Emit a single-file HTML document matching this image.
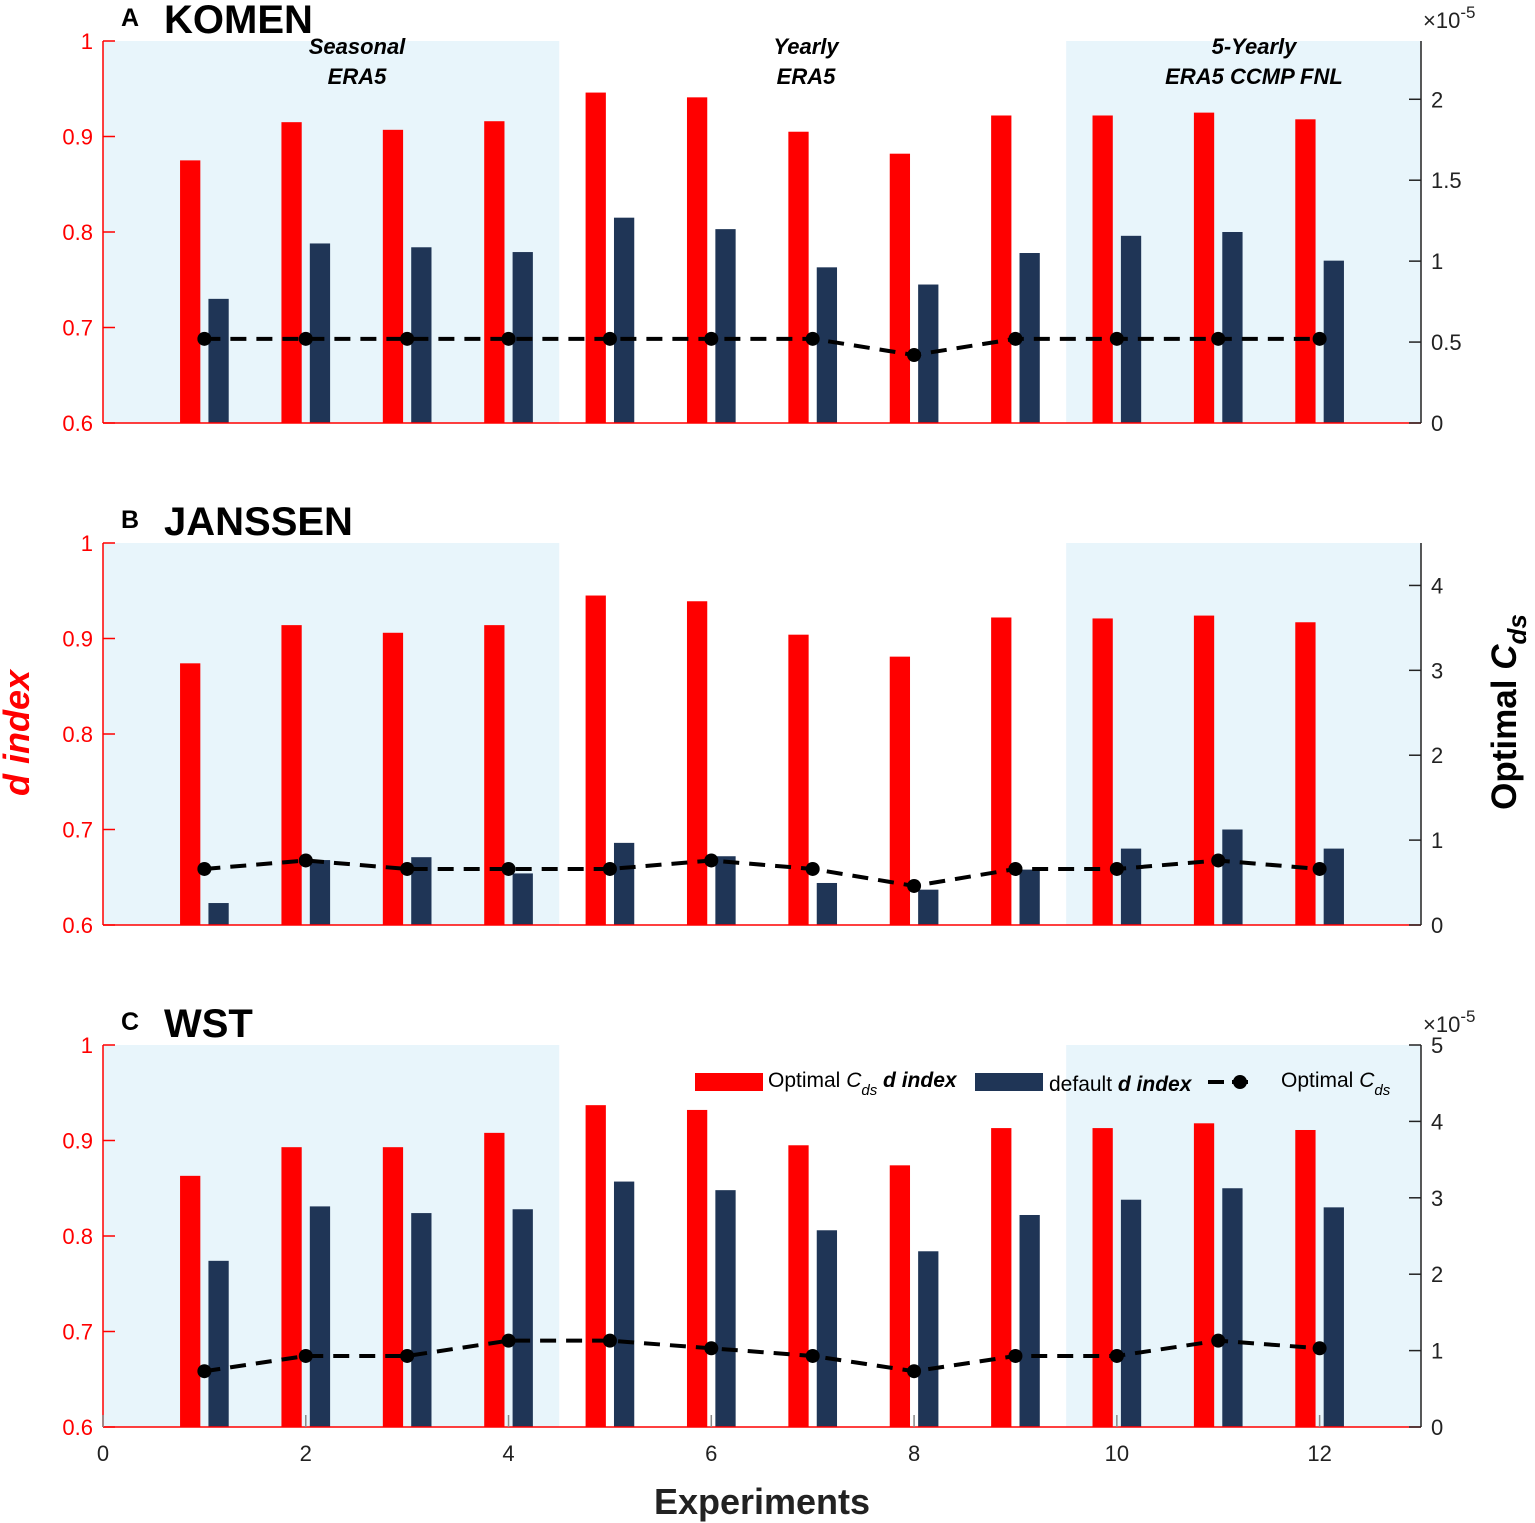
<!DOCTYPE html>
<html><head><meta charset="utf-8"><style>
html,body{margin:0;padding:0;background:#fff;}
svg{display:block;font-family:"Liberation Sans",Arial,sans-serif;}
</style></head><body>
<svg id="chart" width="1535" height="1523" viewBox="0 0 1535 1523"></svg>
<script>
const experiments=[1,2,3,4,5,6,7,8,9,10,11,12];
const komenOpt=[0.875,0.915,0.907,0.916,0.946,0.941,0.905,0.882,0.922,0.922,0.925,0.918];
const komenDef=[0.730,0.788,0.784,0.779,0.815,0.803,0.763,0.745,0.778,0.796,0.800,0.770];
const komenCds=[0.52,0.52,0.52,0.52,0.52,0.52,0.52,0.42,0.52,0.52,0.52,0.52];
const janOpt=[0.874,0.914,0.906,0.914,0.945,0.939,0.904,0.881,0.922,0.921,0.924,0.917];
const janDef=[0.623,0.668,0.671,0.654,0.686,0.672,0.644,0.637,0.658,0.680,0.700,0.680];
const janCds=[0.66,0.76,0.66,0.66,0.66,0.76,0.66,0.46,0.66,0.66,0.76,0.66];
const wstOpt=[0.863,0.893,0.893,0.908,0.937,0.932,0.895,0.874,0.913,0.913,0.918,0.911];
const wstDef=[0.774,0.831,0.824,0.828,0.857,0.848,0.806,0.784,0.822,0.838,0.850,0.830];
const wstCds=[0.73,0.93,0.93,1.13,1.13,1.03,0.93,0.73,0.93,0.93,1.13,1.03];
const leftTicks=[0.6,0.7,0.8,0.9,1];
const xTicks=[0,2,4,6,8,10,12];

const NS="http://www.w3.org/2000/svg";
const svg=document.getElementById('chart');
function el(tag,attrs,parent,text){const e=document.createElementNS(NS,tag);for(const k in attrs)e.setAttribute(k,attrs[k]);if(text!==undefined)e.textContent=text;(parent||svg).appendChild(e);return e;}
const X0=103,X1=1421;
const xs=v=>X0+(v/13)*(X1-X0);

const panels=[
 {key:'a',letter:'A',name:'KOMEN',top:41,bot:423,rmax:2.36,rticks:[0,0.5,1,1.5,2],opt:komenOpt,def:komenDef,cds:komenCds,exp:true},
 {key:'b',letter:'B',name:'JANSSEN',top:543,bot:925,rmax:4.5,rticks:[0,1,2,3,4],opt:janOpt,def:janDef,cds:janCds,exp:false},
 {key:'c',letter:'C',name:'WST',top:1045,bot:1427,rmax:5,rticks:[0,1,2,3,4,5],opt:wstOpt,def:wstDef,cds:wstCds,exp:true}
];
panels.forEach((p,pi)=>{
  const g=el('g',{},svg);
  
  
  const ys=v=>p.bot-(v-0.6)/0.4*(p.bot-p.top);
  const yr=v=>p.bot-v/p.rmax*(p.bot-p.top);
  let s1=el('rect',{x:xs(0),y:p.top,width:xs(4.5)-xs(0),height:p.bot-p.top,fill:'#e8f5fb'},g);
  
  let s2=el('rect',{x:xs(9.5),y:p.top,width:xs(13)-xs(9.5),height:p.bot-p.top,fill:'#e8f5fb'},g);
  
  experiments.forEach((e,i)=>{
    const w=xs(0.2)-xs(0);
    let r=el('rect',{x:xs(e-0.14)-w/2,y:ys(p.opt[i]),width:w,height:p.bot-ys(p.opt[i]),fill:'#ff0000'},g);
    
    let b=el('rect',{x:xs(e+0.14)-w/2,y:ys(p.def[i]),width:w,height:p.bot-ys(p.def[i]),fill:'#1f3556'},g);
    
  });
  const pts=experiments.map((e,i)=>xs(e)+','+yr(p.cds[i])).join(' ');
  let ln=el('polyline',{points:pts,fill:'none',stroke:'#000','stroke-width':4,'stroke-dasharray':'16,10'},g);
  
  experiments.forEach((e,i)=>{
    let c=el('circle',{cx:xs(e),cy:yr(p.cds[i]),r:7,fill:'#000'},g);
    
  });
  let la=el('line',{x1:X0,y1:p.top,x2:X0,y2:p.bot,stroke:'#ff0000','stroke-width':1.5},g);
  
  let ba=el('line',{x1:X0,y1:p.bot,x2:X1,y2:p.bot,stroke:'#ff0000','stroke-width':1.5},g);
  
  let ra=el('line',{x1:X1,y1:p.top,x2:X1,y2:p.bot,stroke:'#222','stroke-width':1.5},g);
  
  leftTicks.forEach(t=>{
    el('line',{x1:X0,y1:ys(t),x2:X0+12,y2:ys(t),stroke:'#ff0000','stroke-width':1.5},g);
    let tl=el('text',{x:X0-10,y:ys(t)+8,'text-anchor':'end','font-size':22,fill:'#ff0000'},g,String(t));
    
  });
  p.rticks.forEach(t=>{
    el('line',{x1:X1-12,y1:yr(t),x2:X1,y2:yr(t),stroke:'#222','stroke-width':1.5},g);
    let tl=el('text',{x:X1+10,y:yr(t)+8,'font-size':22,fill:'#222'},g,String(t));
    
  });
  if(p.exp){
    let ex=el('text',{x:1423,y:p.top-13,'font-size':22,fill:'#222'},g);
    
    ex.innerHTML='×10<tspan dy="-10" font-size="17">-5</tspan>';
  }
  let lt=el('text',{x:121,y:p.top-15,'font-size':25,'font-weight':'bold',fill:'#000'},g,p.letter);
  
  let nm=el('text',{x:164,y:p.top-8,'font-size':40,'font-weight':'bold',fill:'#000'},g,p.name);
  
  if(pi===2){
    xTicks.forEach(t=>{
      el('line',{x1:xs(t),y1:p.bot,x2:xs(t),y2:p.bot-12,stroke:'#888','stroke-width':1.5},g);
      let tl=el('text',{x:xs(t),y:p.bot+34,'text-anchor':'middle','font-size':22,fill:'#222'},g,String(t));
      
    });
  }
});
[[357,['Seasonal','ERA5']],[806,['Yearly','ERA5']],[1254,['5-Yearly','ERA5 CCMP FNL']]].forEach(([x,ls])=>{
  ls.forEach((l,i)=>{
    let t=el('text',{x:x,y:54+i*30,'text-anchor':'middle','font-size':22,'font-weight':'bold','font-style':'italic',fill:'#000'},svg,l);
    
  });
});
const lg=el('g',{},svg);

el('rect',{x:695,y:1073,width:68,height:18,fill:'#ff0000'},lg);
let l1=el('text',{x:768,y:1087,'font-size':21,fill:'#000'},lg);

l1.innerHTML='Optimal <tspan font-style="italic">C</tspan><tspan font-style="italic" font-size="15" dy="8">ds</tspan><tspan dy="-8" font-weight="bold" font-style="italic"> d index</tspan>';
el('rect',{x:975,y:1073,width:68,height:18,fill:'#1f3556'},lg);
let l2=el('text',{x:1049,y:1091,'font-size':21,fill:'#000'},lg);

l2.innerHTML='default <tspan font-weight="bold" font-style="italic">d index</tspan>';
el('line',{x1:1208,y1:1082,x2:1256,y2:1082,stroke:'#000','stroke-width':4,'stroke-dasharray':'16,8'},lg);
el('circle',{cx:1240,cy:1082,r:7,fill:'#000'},lg);
let l3=el('text',{x:1281,y:1087,'font-size':21,fill:'#000'},lg);

l3.innerHTML='Optimal <tspan font-style="italic">C</tspan><tspan font-style="italic" font-size="15" dy="8">ds</tspan>';
let yl=el('text',{x:0,y:0,transform:'translate(29,733) rotate(-90)','text-anchor':'middle','font-size':36,'font-weight':'bold','font-style':'italic',fill:'#ff0000'},svg,'d index');

let yr2=el('text',{x:0,y:0,transform:'translate(1516,712) rotate(-90)','text-anchor':'middle','font-size':35,'font-weight':'bold',fill:'#000'},svg);

yr2.innerHTML='Optimal <tspan font-style="italic">C</tspan><tspan font-style="italic" font-size="26" dy="10">ds</tspan>';
let xl=el('text',{x:762,y:1514,'text-anchor':'middle','font-size':36,'font-weight':'bold',fill:'#222'},svg,'Experiments');

</script>
</body></html>
